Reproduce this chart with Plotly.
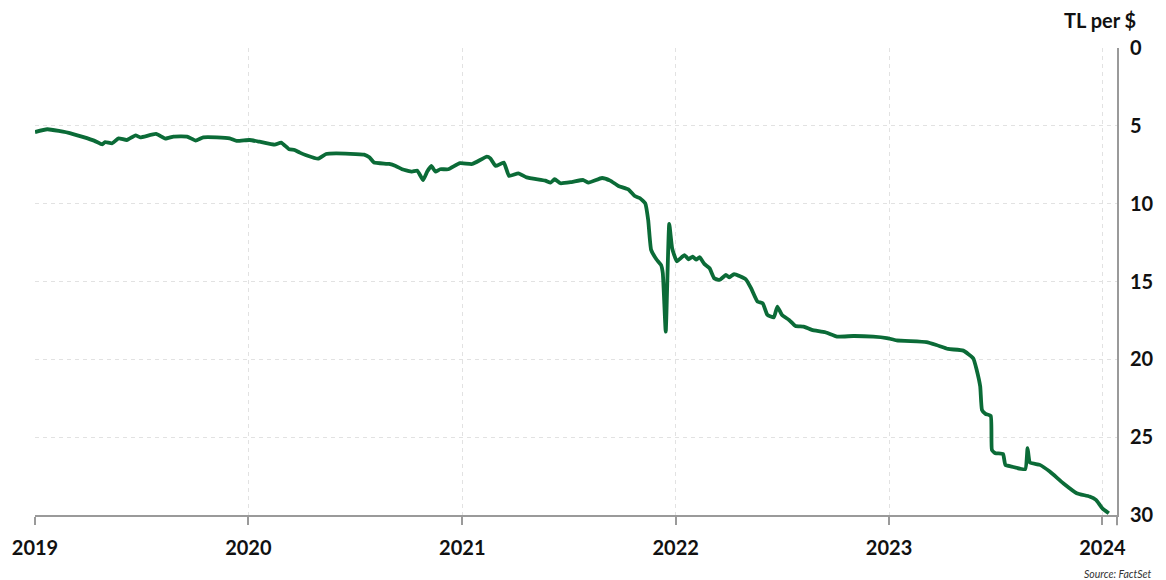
import plotly.graph_objects as go

# Lira per US dollar, sampled along the series
dates = [
    "2019-01-01", "2019-01-22", "2019-03-03", "2019-04-12", "2019-04-26", "2019-05-01",
    "2019-05-13", "2019-05-24", "2019-06-07", "2019-06-22", "2019-06-30", "2019-07-27",
    "2019-08-12", "2019-08-26", "2019-09-18", "2019-10-03", "2019-10-16", "2019-11-08",
    "2019-11-30", "2019-12-12", "2020-01-03", "2020-01-20", "2020-02-15", "2020-02-26",
    "2020-03-11", "2020-03-20", "2020-03-29", "2020-04-09", "2020-04-29", "2020-05-13",
    "2020-05-30", "2020-07-17", "2020-07-26", "2020-08-03", "2020-08-29", "2020-09-09",
    "2020-09-20", "2020-10-07", "2020-10-16", "2020-10-26", "2020-11-02", "2020-11-09",
    "2020-11-16", "2020-11-24", "2020-12-08", "2020-12-28", "2021-01-18", "2021-02-12",
    "2021-02-18", "2021-02-27", "2021-03-13", "2021-03-22", "2021-04-07", "2021-04-21",
    "2021-05-23", "2021-06-01", "2021-06-08", "2021-06-18", "2021-07-07", "2021-07-27",
    "2021-08-05", "2021-08-28", "2021-09-11", "2021-09-25", "2021-10-12", "2021-10-23",
    "2021-11-01", "2021-11-10", "2021-11-15", "2021-11-20", "2021-11-29", "2021-12-07",
    "2021-12-10", "2021-12-15", "2021-12-21", "2021-12-26", "2022-01-03", "2022-01-16",
    "2022-01-23", "2022-01-30", "2022-02-05", "2022-02-11", "2022-02-19", "2022-02-28",
    "2022-03-08", "2022-03-17", "2022-03-28", "2022-04-03", "2022-04-11", "2022-05-01",
    "2022-05-10", "2022-05-21", "2022-05-30", "2022-06-07", "2022-06-18", "2022-06-24",
    "2022-07-02", "2022-07-14", "2022-07-25", "2022-08-08", "2022-08-22", "2022-09-14",
    "2022-10-04", "2022-11-01", "2022-12-05", "2022-12-28", "2023-01-14", "2023-03-06",
    "2023-03-23", "2023-04-12", "2023-05-08", "2023-05-25", "2023-05-31", "2023-06-06",
    "2023-06-09", "2023-06-15", "2023-06-24", "2023-06-26", "2023-07-02", "2023-07-15",
    "2023-07-19", "2023-07-30", "2023-08-22", "2023-08-26", "2023-08-30", "2023-09-16",
    "2023-10-03", "2023-10-26", "2023-11-18", "2023-12-10", "2023-12-21", "2024-01-01",
    "2024-01-12",
]
tl_per_usd = [
    5.40, 5.22, 5.48, 5.95, 6.19, 6.04,
    6.12, 5.80, 5.91, 5.61, 5.74, 5.52,
    5.82, 5.69, 5.69, 5.95, 5.74, 5.74,
    5.80, 5.97, 5.91, 6.02, 6.21, 6.08,
    6.51, 6.55, 6.72, 6.89, 7.11, 6.81,
    6.77, 6.85, 7.02, 7.36, 7.45, 7.58,
    7.79, 7.94, 7.88, 8.48, 7.94, 7.58,
    7.94, 7.79, 7.79, 7.40, 7.45, 6.98,
    7.09, 7.58, 7.36, 8.22, 8.05, 8.31,
    8.52, 8.65, 8.43, 8.69, 8.61, 8.48,
    8.65, 8.35, 8.52, 8.86, 9.08, 9.51,
    9.65, 9.98, 11.05, 12.97, 13.57, 13.94,
    14.47, 18.22, 11.30, 12.87, 13.70, 13.30,
    13.57, 13.40, 13.60, 13.44, 13.87, 14.15,
    14.79, 14.90, 14.58, 14.73, 14.52, 14.86,
    15.43, 16.29, 16.40, 17.15, 17.30, 16.61,
    17.15, 17.47, 17.86, 17.90, 18.11, 18.26,
    18.54, 18.50, 18.54, 18.63, 18.78, 18.90,
    19.08, 19.33, 19.44, 19.93, 20.68, 21.75,
    23.25, 23.50, 23.63, 25.82, 26.03, 26.08,
    26.78, 26.89, 27.06, 25.71, 26.63, 26.78,
    27.21, 27.96, 28.60, 28.81, 29.03, 29.57,
    29.89,
]

year_ticks = ["2019-01-01", "2020-01-01", "2021-01-01", "2022-01-01", "2023-01-01", "2024-01-01"]
year_labels = ["2019", "2020", "2021", "2022", "2023", "2024"]
value_ticks = [0, 5, 10, 15, 20, 25, 30]

GREEN = "#0b6b37"
AXIS = "#9a9a9a"
GRID = "#e2e2e2"
FONT = "Lato"
LABEL_FONT = dict(family=FONT, size=20, color="#111111", weight="bold")

fig = go.Figure()
fig.add_trace(go.Scatter(
    x=dates, y=tl_per_usd, mode="lines",
    line=dict(color=GREEN, width=3.8, shape="spline", smoothing=0.4),
    hoverinfo="x+y", showlegend=False,
))

fig.update_layout(
    width=1166, height=580,
    margin=dict(l=34, r=44, t=48, b=65),
    paper_bgcolor="white", plot_bgcolor="white",
    font=dict(family=FONT, size=17, color="#111111"),
    xaxis=dict(
        type="date",
        range=["2019-01-01", "2024-01-26"],
        tickvals=year_ticks, ticktext=year_labels,
        showgrid=True, gridcolor=GRID, griddash="4px,4px", gridwidth=1,
        showline=True, linecolor=AXIS, linewidth=2,
        ticks="outside", ticklen=8, tickwidth=2, tickcolor=AXIS,
        ticklabelstandoff=6,
        tickfont=LABEL_FONT,
        zeroline=False,
    ),
    yaxis=dict(
        range=[30, 0],
        side="right",
        tickvals=value_ticks,
        showgrid=True, gridcolor=GRID, griddash="4px,4px", gridwidth=1,
        showline=True, linecolor=AXIS, linewidth=2,
        ticks="", ticklabelstandoff=7,
        tickfont=LABEL_FONT,
        zeroline=False,
    ),
    annotations=[
        dict(text="TL per $", xref="paper", yref="paper", x=1.019, y=1.0,
             xanchor="right", yanchor="bottom", yshift=14, showarrow=False,
             font=dict(family=FONT, size=20, color="#111111", weight="bold")),
        dict(text="<i>Source: FactSet</i>", xref="paper", yref="paper", x=1.034, y=0,
             xanchor="right", yanchor="top", yshift=-51, showarrow=False,
             font=dict(family=FONT, size=10.5, color="#333333")),
    ],
    shapes=[
        # right axis line runs a little below the date axis
        dict(type="line", xref="paper", yref="paper", x0=1, x1=1, y0=0, y1=-0.022,
             line=dict(color=AXIS, width=2)),
    ],
)

fig.write_html("out.html")
